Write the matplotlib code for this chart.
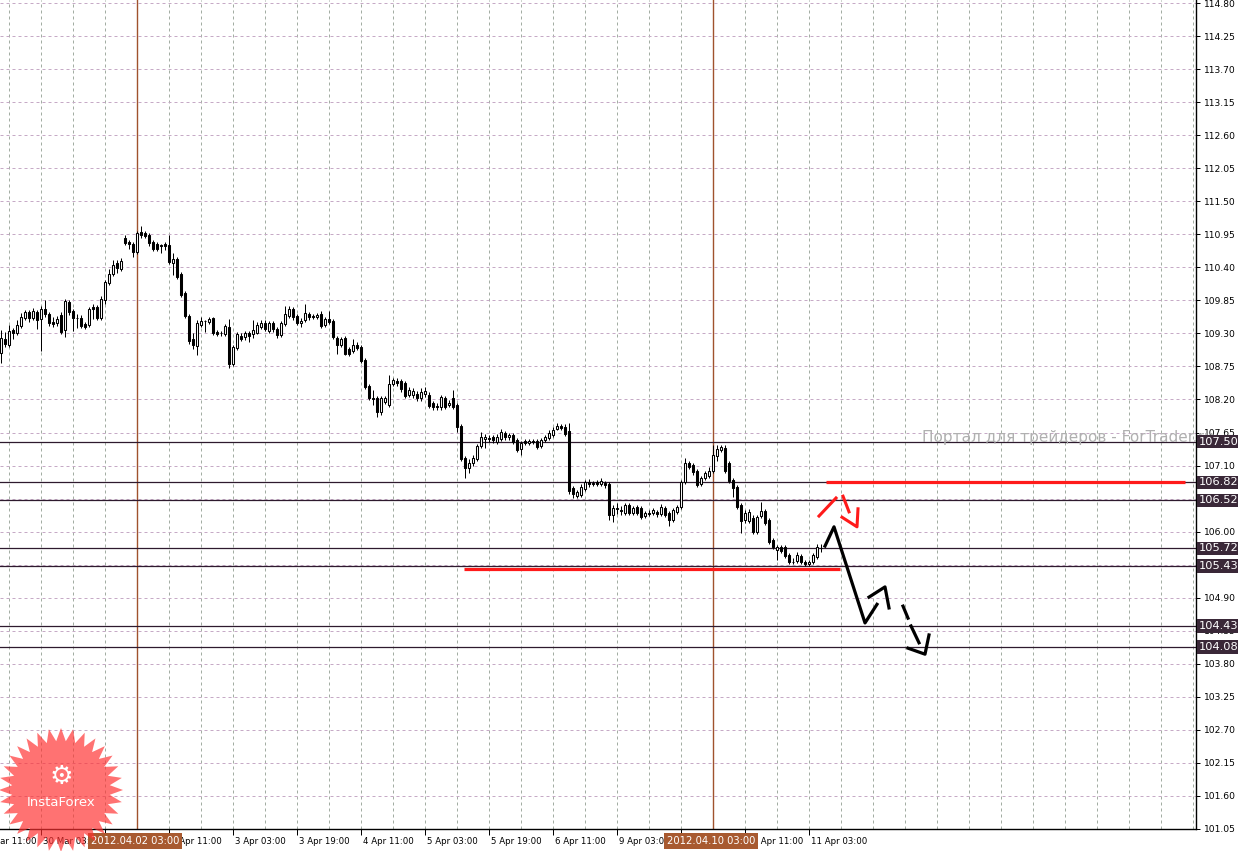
import numpy as np
import matplotlib
matplotlib.use('Agg')
import matplotlib.pyplot as plt
import matplotlib.transforms as mtransforms
from matplotlib.patches import Polygon

# USDJPY H1, 29 Mar - 11 Apr 2012 (bar index 0 = 29 Mar 17:00)
opens = [108.97, 109.21, 109.11, 109.36, 109.31, 109.42, 109.56, 109.66, 109.56, 109.66,
         109.54, 109.71, 109.62, 109.49, 109.47, 109.61, 109.36, 109.82, 109.67, 109.56,
         109.56, 109.46, 109.44, 109.74, 109.74, 109.56, 109.85, 110.14, 110.29, 110.47,
         110.37, 110.89, 110.82, 110.79, 110.65, 110.99, 110.97, 110.94, 110.82, 110.79,
         110.77, 110.79, 110.77, 110.47, 110.54, 110.29, 109.97, 109.59, 109.21, 109.09,
         109.44, 109.51, 109.49, 109.56, 109.32, 109.31, 109.29, 109.41, 108.79, 109.05,
         109.26, 109.24, 109.31, 109.29, 109.31, 109.41, 109.47, 109.34, 109.47, 109.37,
         109.27, 109.46, 109.59, 109.71, 109.59, 109.47, 109.52, 109.62, 109.59, 109.57,
         109.62, 109.44, 109.54, 109.51, 109.22, 109.11, 109.22, 109.04, 109.01, 109.11,
         109.07, 108.86, 108.42, 108.22, 108.22, 107.99, 108.16, 108.11, 108.46, 108.51,
         108.51, 108.47, 108.27, 108.27, 108.29, 108.22, 108.29, 108.27, 108.14, 108.09,
         108.07, 108.22, 108.11, 108.22, 108.11, 107.76, 107.22, 107.06, 107.14, 107.21,
         107.42, 107.54, 107.56, 107.57, 107.49, 107.54, 107.64, 107.57, 107.61, 107.52,
         107.37, 107.51, 107.47, 107.51, 107.51, 107.42, 107.52, 107.56, 107.61, 107.71,
         107.76, 107.74, 107.67, 106.72, 106.59, 106.61, 106.71, 106.82, 106.81, 106.82,
         106.79, 106.81, 106.79, 106.28, 106.39, 106.36, 106.31, 106.44, 106.31, 106.41,
         106.39, 106.26, 106.31, 106.31, 106.32, 106.29, 106.39, 106.31, 106.19, 106.32,
         106.41, 106.82, 107.14, 107.11, 107.01, 106.79, 106.89, 106.92, 107.01, 107.26,
         107.36, 107.39, 107.14, 106.86, 106.74, 106.44, 106.19, 106.18, 106.23, 105.99,
         106.26, 106.34, 106.19, 105.86, 105.69, 105.74, 105.74, 105.61, 105.50, 105.51,
         105.59, 105.49, 105.46, 105.49, 105.58, 105.73]
highs = [109.36, 109.32, 109.44, 109.39, 109.52, 109.64, 109.69, 109.69, 109.72, 109.69,
         109.76, 109.86, 109.66, 109.57, 109.59, 109.66, 109.87, 109.86, 109.71, 109.62,
         109.61, 109.49, 109.74, 109.79, 109.77, 109.92, 110.19, 110.37, 110.52, 110.52,
         110.55, 110.94, 110.85, 110.82, 111.00, 111.09, 111.01, 110.97, 110.85, 110.82,
         110.79, 110.82, 110.94, 110.64, 110.57, 110.32, 110.00, 109.62, 109.31, 109.52,
         109.57, 109.52, 109.57, 109.57, 109.36, 109.34, 109.46, 109.54, 109.10, 109.32,
         109.31, 109.34, 109.34, 109.52, 109.49, 109.52, 109.52, 109.51, 109.51, 109.41,
         109.51, 109.76, 109.76, 109.74, 109.62, 109.56, 109.79, 109.66, 109.62, 109.64,
         109.67, 109.57, 109.67, 109.54, 109.26, 109.24, 109.26, 109.07, 109.21, 109.16,
         109.11, 108.89, 108.45, 108.36, 108.26, 108.26, 108.26, 108.61, 108.56, 108.56,
         108.54, 108.51, 108.41, 108.39, 108.34, 108.39, 108.41, 108.32, 108.17, 108.14,
         108.27, 108.26, 108.19, 108.36, 108.14, 107.79, 107.26, 107.21, 107.27, 107.46,
         107.66, 107.62, 107.61, 107.61, 107.62, 107.71, 107.67, 107.64, 107.64, 107.56,
         107.51, 107.54, 107.54, 107.54, 107.54, 107.56, 107.61, 107.69, 107.74, 107.81,
         107.79, 107.79, 107.81, 106.76, 106.69, 106.79, 106.86, 106.87, 106.84, 106.86,
         106.89, 106.84, 106.82, 106.44, 106.47, 106.42, 106.47, 106.47, 106.42, 106.44,
         106.42, 106.34, 106.36, 106.39, 106.36, 106.46, 106.42, 106.34, 106.39, 106.44,
         106.86, 107.22, 107.17, 107.14, 107.04, 106.92, 107.01, 107.07, 107.44, 107.44,
         107.44, 107.44, 107.17, 106.89, 106.77, 106.47, 106.36, 106.37, 106.27, 106.27,
         106.49, 106.37, 106.22, 105.89, 105.77, 105.77, 105.77, 105.64, 105.56, 105.66,
         105.62, 105.52, 105.52, 105.64, 105.79, 105.79]
lows = [108.81, 109.07, 109.07, 109.21, 109.27, 109.39, 109.52, 109.49, 109.52, 109.37,
        109.01, 109.57, 109.42, 109.41, 109.42, 109.29, 109.24, 109.61, 109.34, 109.39,
        109.39, 109.37, 109.41, 109.54, 109.52, 109.52, 109.79, 110.10, 110.25, 110.30,
        110.34, 110.77, 110.70, 110.57, 110.62, 110.89, 110.89, 110.75, 110.67, 110.67,
        110.64, 110.69, 110.45, 110.27, 110.20, 109.91, 109.56, 109.12, 109.04, 108.94,
        109.41, 109.32, 109.46, 109.27, 109.26, 109.26, 109.26, 108.72, 108.76, 109.02,
        109.17, 109.19, 109.16, 109.22, 109.29, 109.37, 109.34, 109.31, 109.32, 109.22,
        109.24, 109.42, 109.56, 109.52, 109.44, 109.41, 109.49, 109.52, 109.54, 109.54,
        109.39, 109.41, 109.46, 109.21, 108.96, 109.07, 108.94, 108.92, 108.97, 109.02,
        108.81, 108.37, 108.19, 108.11, 107.91, 107.94, 108.12, 108.07, 108.42, 108.42,
        108.32, 108.22, 108.24, 108.22, 108.17, 108.17, 108.24, 108.06, 108.02, 108.02,
        108.02, 108.04, 108.07, 108.04, 107.66, 107.17, 106.89, 106.97, 107.09, 107.17,
        107.39, 107.39, 107.49, 107.47, 107.46, 107.51, 107.52, 107.52, 107.46, 107.32,
        107.27, 107.44, 107.44, 107.46, 107.37, 107.39, 107.49, 107.52, 107.57, 107.69,
        107.69, 107.59, 106.62, 106.56, 106.56, 106.57, 106.67, 106.74, 106.76, 106.76,
        106.76, 106.72, 106.19, 106.16, 106.29, 106.27, 106.27, 106.27, 106.27, 106.27,
        106.21, 106.22, 106.26, 106.27, 106.24, 106.26, 106.24, 106.09, 106.16, 106.29,
        106.37, 106.79, 107.04, 106.94, 106.74, 106.76, 106.86, 106.89, 106.97, 107.17,
        107.32, 106.97, 106.81, 106.57, 106.37, 105.97, 106.14, 106.14, 105.96, 105.96,
        106.22, 106.11, 105.79, 105.71, 105.52, 105.64, 105.56, 105.46, 105.46, 105.47,
        105.46, 105.43, 105.42, 105.46, 105.54, 105.66]
closes = [109.22, 109.12, 109.34, 109.31, 109.44, 109.57, 109.66, 109.56, 109.67, 109.52,
          109.71, 109.62, 109.47, 109.46, 109.54, 109.32, 109.84, 109.66, 109.56, 109.55,
          109.42, 109.41, 109.70, 109.71, 109.56, 109.87, 110.15, 110.29, 110.44, 110.39,
          110.50, 110.80, 110.79, 110.65, 110.97, 110.94, 110.92, 110.80, 110.70, 110.70,
          110.76, 110.75, 110.49, 110.54, 110.24, 109.94, 109.59, 109.17, 109.11, 109.47,
          109.51, 109.50, 109.54, 109.31, 109.29, 109.30, 109.42, 108.79, 109.07, 109.29,
          109.21, 109.31, 109.26, 109.36, 109.44, 109.47, 109.37, 109.47, 109.37, 109.27,
          109.47, 109.62, 109.71, 109.57, 109.47, 109.51, 109.64, 109.57, 109.58, 109.61,
          109.42, 109.54, 109.49, 109.24, 109.11, 109.21, 108.96, 108.96, 109.11, 109.06,
          108.84, 108.41, 108.22, 108.21, 107.99, 108.22, 108.22, 108.46, 108.52, 108.47,
          108.37, 108.26, 108.36, 108.34, 108.22, 108.32, 108.34, 108.09, 108.07, 108.08,
          108.24, 108.07, 108.14, 108.07, 107.74, 107.21, 107.06, 107.14, 107.22, 107.42,
          107.57, 107.57, 107.55, 107.52, 107.57, 107.66, 107.57, 107.61, 107.49, 107.36,
          107.47, 107.47, 107.51, 107.50, 107.41, 107.52, 107.57, 107.64, 107.69, 107.76,
          107.72, 107.62, 106.67, 106.62, 106.66, 106.74, 106.82, 106.79, 106.80, 106.79,
          106.84, 106.77, 106.28, 106.39, 106.38, 106.35, 106.44, 106.31, 106.39, 106.31,
          106.24, 106.31, 106.30, 106.36, 106.29, 106.41, 106.27, 106.19, 106.36, 106.41,
          106.82, 107.14, 107.07, 106.99, 106.77, 106.89, 106.97, 107.01, 107.27, 107.37,
          107.41, 107.01, 106.84, 106.72, 106.41, 106.17, 106.31, 106.33, 105.99, 106.24,
          106.34, 106.14, 105.83, 105.74, 105.74, 105.68, 105.59, 105.49, 105.49, 105.61,
          105.49, 105.46, 105.49, 105.61, 105.74, 105.72]

# time axis labels (bar index, text)
label_bars = [-6, 10, 26, 42, 58, 74, 90, 106, 122, 138, 154, 170, 186, 202]
label_texts = ['29 Mar 11:00', '30 Mar 03:00', '30 Mar 19:00', '2 Apr 11:00', '3 Apr 03:00',
               '3 Apr 19:00', '4 Apr 11:00', '5 Apr 03:00', '5 Apr 19:00', '6 Apr 11:00',
               '9 Apr 03:00', '9 Apr 19:00', '10 Apr 11:00', '11 Apr 03:00']
sep_bars = [34, 178]
sep_texts = ['2012.04.02 03:00', '2012.04.10 03:00']

# horizontal levels
levels = [107.50, 106.82, 106.52, 105.72, 105.43, 104.43, 104.08]
price_ticks = np.round(101.05 + 0.55 * np.arange(26), 2)

# red resistance / support segments
res_bars = [206.25, 296.0]
res_price = 106.82
sup_bars = [115.75, 209.75]
sup_price = 105.38

# forecast sketches
red_up_x = [204.5, 208.75]
red_up_y = [106.26, 106.56]
red_dn_x = [210.5, 212.0]
red_dn_y = [106.59, 106.33]
red_head_x = [210.25, 214.0, 214.25]
red_head_y = [106.24, 106.08, 106.38]

blk_main_x = [206.0, 208.25, 216.0, 219.0]
blk_main_y = [105.76, 106.08, 104.48, 104.79]
blk_b_x = [217.0, 221.0, 222.0]
blk_b_y = [104.91, 105.08, 104.73]
blk_c1_x = [225.5, 226.75]
blk_c1_y = [104.76, 104.56]
blk_c2_x = [227.5, 229.5]
blk_c2_y = [104.43, 104.15]
blk_head_x = [226.75, 231.0, 232.0]
blk_head_y = [104.06, 103.96, 104.28]

W, H = 1238, 851
fig = plt.figure(figsize=(W / 100, H / 100), dpi=100)
fig.patch.set_facecolor('white')
ax = fig.add_axes([0, 22 / H, 1196 / W, 829 / H])

px = 0.72  # one pixel in points

# grid
for g in np.arange(2, 299, 8):
    ax.axvline(g, color='#a3ada3', lw=px, dashes=(3, 3), zorder=0)
for t in price_ticks:
    ax.axhline(t, color='#c6aac6', lw=px, dashes=(3, 3), zorder=0)

# separators
for b in sep_bars:
    ax.axvline(b, color='#a0522d', lw=1.0, zorder=1)

# levels
for lv in levels:
    ax.axhline(lv, color='#2e1a2e', lw=0.9, zorder=1)

# candles
x = np.arange(len(opens))
o = np.array(opens); c = np.array(closes)
hi = np.array(highs); lo = np.array(lows)
ax.vlines(x, lo, hi, color='black', lw=px, zorder=2)
up = c >= o
body_lo = np.minimum(o, c)
body_h = np.maximum(np.abs(c - o), 0.008)
ax.bar(x[up], body_h[up], bottom=body_lo[up], width=0.55, color='white',
       edgecolor='black', linewidth=0.75, zorder=3)
ax.bar(x[~up], body_h[~up], bottom=body_lo[~up], width=0.55, color='black',
       edgecolor='black', linewidth=0.75, zorder=3)

# red lines
ax.plot(res_bars, [res_price] * 2, color='#ff1a1a', lw=2.3, solid_capstyle='butt', zorder=4)
ax.plot(sup_bars, [sup_price] * 2, color='#ff1a1a', lw=2.3, solid_capstyle='butt', zorder=4)

# forecast drawings
for xs, ys in [(red_up_x, red_up_y), (red_dn_x, red_dn_y), (red_head_x, red_head_y)]:
    ax.plot(xs, ys, color='#ff1a1a', lw=2.2, zorder=5)
for xs, ys in [(blk_main_x, blk_main_y), (blk_b_x, blk_b_y), (blk_c1_x, blk_c1_y),
               (blk_c2_x, blk_c2_y), (blk_head_x, blk_head_y)]:
    ax.plot(xs, ys, color='black', lw=2.3, zorder=5)

# watermark
ax.text(230.25, 107.57, 'Портал для трейдеров - ForTrader.ru', color='#b0b0b0',
        fontsize=11, ha='left', va='center', clip_on=False, zorder=6)

# axes styling
for s in ['top', 'left']:
    ax.spines[s].set_visible(False)
ax.spines['right'].set_linewidth(1.0)
ax.spines['bottom'].set_linewidth(1.0)
ax.yaxis.tick_right()
ax.set_yticks(price_ticks)
ax.set_yticklabels(['%.2f' % t for t in price_ticks])
ax.tick_params(axis='y', direction='out', length=3, pad=3, labelsize=6.6, width=px)
ax.set_xticks(label_bars)
ax.set_xticklabels([])
ax.tick_params(axis='x', direction='out', length=4, width=px)
ax.set_xlim(-0.25, 298.75)
ax.set_ylim(101.05, 114.85)

btrans = mtransforms.blended_transform_factory(ax.transData, ax.transAxes)
for b, t in zip(label_bars, label_texts):
    ax.text(b + 0.6, -0.0145, t, transform=btrans, fontsize=6.2, ha='left', va='center',
            clip_on=False)
for b, t in zip(sep_bars, sep_texts):
    ax.text(b - 0.5, -0.0145, t, transform=btrans, fontsize=7.2, ha='center', va='center',
            color='white', clip_on=False, zorder=10,
            bbox=dict(boxstyle='square,pad=0.3', facecolor='#a85a30', edgecolor='none'))

rtrans = mtransforms.blended_transform_factory(ax.transAxes, ax.transData)
for lv in levels:
    ax.text(1.0025, lv, '%.2f' % lv, transform=rtrans, fontsize=8.2, ha='left', va='center',
            color='white', clip_on=False, zorder=10,
            bbox=dict(boxstyle='square,pad=0.15', facecolor='#3a2838', edgecolor='none'))

# InstaForex badge
lax = fig.add_axes([0, 0, 1, 1], zorder=20)
lax.set_xlim(0, W)
lax.set_ylim(H, 0)
lax.axis('off')
lax.patch.set_alpha(0)
n = 32
ang = np.linspace(0, 2 * np.pi, 2 * n, endpoint=False) - np.pi / 2
rad = np.where(np.arange(2 * n) % 2 == 0, 62, 49)
star = np.column_stack([61 + rad * np.cos(ang), 790 + rad * np.sin(ang)])
lax.add_patch(Polygon(star, closed=True, facecolor='#ff3030', alpha=0.68, edgecolor='none'))
lax.text(61, 777, '\u2699', color='white', fontsize=19, ha='center', va='center')
lax.text(61, 803, 'InstaForex', color='white', fontsize=9.5, ha='center', va='center')

fig.savefig('out.png', dpi=100)
